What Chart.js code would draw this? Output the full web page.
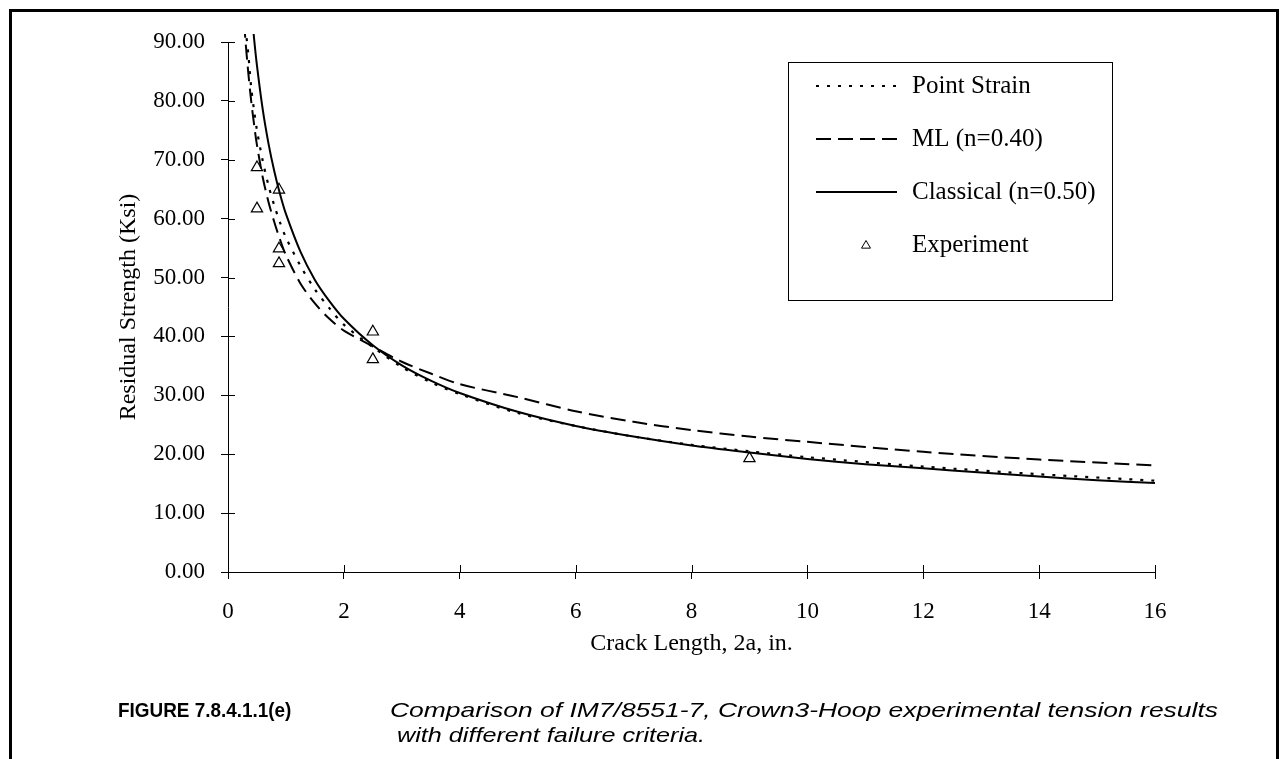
<!DOCTYPE html>
<html>
<head>
<meta charset="utf-8">
<script src="https://cdn.jsdelivr.net/npm/chart.js@4.4.1/dist/chart.umd.min.js"></script>
<style>
  html, body { margin: 0; padding: 0; background: #fff; }
  body { width: 1288px; height: 759px; position: relative; overflow: hidden; }
  #wrap { position: absolute; left: 0; top: 0; width: 1288px; height: 759px; }
  #frame { position: absolute; left: 9px; top: 9px; width: 1264px; height: 770px;
           border-left: 3px solid #000; border-top: 3px solid #000; border-right: 3px solid #000; }
  .cap { position: absolute; font-family: "Liberation Sans", Arial, sans-serif; color: #000; white-space: pre; }
  #capA { left: 118px; top: 698px; font-size: 21px; font-weight: bold; transform: scaleX(0.9); transform-origin: 0 0; }
  #capB { left: 390px; top: 698px; font-size: 21px; font-style: italic; transform: scaleX(1.26); transform-origin: 0 0; }
  #capC { left: 390px; top: 723px; font-size: 21px; font-style: italic; transform: scaleX(1.2); transform-origin: 0 0; }
</style>
</head>
<body>
<div id="frame"></div>
<div id="wrap"><canvas id="c" width="1288" height="759"></canvas></div>
<div class="cap" id="capA">FIGURE 7.8.4.1.1(e)</div>
<div class="cap" id="capB">Comparison of IM7/8551-7, Crown3-Hoop experimental tension results</div>
<div class="cap" id="capC"> with different failure criteria.</div>
<script>
// ---- data ----
const seriesNames = ["Point Strain", "ML (n=0.40)", "Classical (n=0.50)", "Experiment"];

const pointStrainX = [0.30, 0.35, 0.40, 0.45, 0.50, 0.60, 0.70, 0.80, 0.90, 1.00, 1.25, 1.50, 1.75, 2.00, 2.50, 3.00, 3.50, 4.00, 5.00, 6.00, 7.00, 8.00, 9.00, 10.00, 12.00, 14.00, 16.00];
const pointStrainY = [92.5, 88.0, 82.3, 78.4, 75.0, 69.8, 65.6, 62.2, 59.3, 56.8, 52.0, 48.0, 44.8, 42.0, 38.2, 34.8, 32.2, 30.2, 27.0, 24.8, 23.0, 21.6, 20.5, 19.5, 17.9, 16.6, 15.5];

const mlX = [0.25, 0.30, 0.35, 0.40, 0.45, 0.50, 0.60, 0.70, 0.80, 0.90, 1.00, 1.25, 1.50, 1.75, 2.00, 2.50, 3.00, 3.50, 4.00, 5.00, 6.00, 7.00, 8.00, 9.00, 10.00, 12.00, 14.00, 16.00];
const mlY = [97.0, 90.4, 84.8, 80.0, 76.0, 72.5, 67.0, 62.8, 59.4, 56.4, 53.8, 49.0, 45.6, 43.0, 41.0, 38.3, 35.7, 33.7, 31.9, 29.7, 27.3, 25.5, 24.1, 23.0, 22.1, 20.4, 19.1, 18.1];

const classicalX = [0.40, 0.45, 0.50, 0.60, 0.70, 0.80, 0.90, 1.00, 1.25, 1.50, 1.75, 2.00, 2.50, 3.00, 3.50, 4.00, 5.00, 6.00, 7.00, 8.00, 9.00, 10.00, 11.00, 12.00, 13.00, 14.00, 15.00, 16.00];
const classicalY = [96.1, 90.6, 86.0, 78.5, 72.7, 68.0, 64.1, 60.8, 54.4, 49.6, 46.0, 43.0, 38.5, 35.1, 32.5, 30.4, 27.2, 24.8, 23.0, 21.5, 20.3, 19.2, 18.3, 17.6, 16.9, 16.2, 15.6, 15.1];

const experimentX = [0.50, 0.50, 0.88, 0.88, 0.88, 2.50, 2.50, 9.00];
const experimentY = [68.7, 61.7, 64.9, 54.9, 52.4, 40.8, 36.1, 19.3];

const xTicks = [0, 2, 4, 6, 8, 10, 12, 14, 16];
const yTicks = [0, 10, 20, 30, 40, 50, 60, 70, 80, 90];

const xTitle = "Crack Length, 2a, in.";
const yTitle = "Residual Strength (Ksi)";

// ---- build ----
const pts = (xs, ys) => xs.map((x, i) => ({ x: x, y: ys[i] }));
const SERIF = "'Liberation Serif', 'Times New Roman', serif";
const TICK_FS = 23, TITLE_FS = 24, LEG_FS = 25;

const clipTop = { left: 0, top: 8, right: 0, bottom: 0 };

const datasets = [
  { label: seriesNames[0], data: pts(pointStrainX, pointStrainY), showLine: true, borderColor: '#000', borderWidth: 2.2,
    borderDash: [3, 8], pointRadius: 0, tension: 0.3, clip: clipTop, legendKind: 'line' },
  { label: seriesNames[1], data: pts(mlX, mlY), showLine: true, borderColor: '#000', borderWidth: 2,
    borderDash: [15, 7], pointRadius: 0, tension: 0.3, clip: clipTop, legendKind: 'line' },
  { label: seriesNames[2], data: pts(classicalX, classicalY), showLine: true, borderColor: '#000', borderWidth: 2,
    pointRadius: 0, tension: 0.3, clip: clipTop, legendKind: 'line' },
  { label: seriesNames[3], data: pts(experimentX, experimentY), showLine: false, pointStyle: 'triangle',
    pointRadius: 6.5, pointBorderWidth: 1.2, pointBackgroundColor: '#fff', pointBorderColor: '#000',
    borderColor: '#000', backgroundColor: '#fff', legendKind: 'point', clip: false }
];

// tick marks crossing the axes (inner half)
const innerTicks = {
  id: 'innerTicks',
  afterDatasetsDraw(chart) {
    const { ctx, scales: { x, y }, chartArea: ca } = chart;
    ctx.save();
    ctx.strokeStyle = '#000';
    ctx.lineWidth = 1;
    ctx.beginPath();
    xTicks.forEach(v => { const px = Math.round(x.getPixelForValue(v)) + 0.5; ctx.moveTo(px, ca.bottom); ctx.lineTo(px, ca.bottom - 7); });
    yTicks.forEach(v => { const py = Math.round(y.getPixelForValue(v)) + 0.5; ctx.moveTo(ca.left, py); ctx.lineTo(ca.left + 7, py); });
    ctx.stroke();
    ctx.restore();
  }
};

// boxed legend like the reference
const boxLegend = {
  id: 'boxLegend',
  afterDraw(chart) {
    const { ctx } = chart;
    const bx = 788, by = 62, bw = 324, bh = 238;
    ctx.save();
    ctx.strokeStyle = '#000';
    ctx.lineWidth = 1;
    ctx.fillStyle = '#fff';
    ctx.fillRect(bx, by, bw, bh);
    ctx.strokeRect(bx + 0.5, by + 0.5, bw, bh);
    const rows = [86, 139, 192, 245];
    chart.data.datasets.forEach((ds, i) => {
      const yy = rows[i];
      if (ds.legendKind === 'line') {
        ctx.beginPath();
        ctx.setLineDash(ds.borderDash || []);
        ctx.lineWidth = ds.borderWidth;
        ctx.strokeStyle = ds.borderColor;
        ctx.moveTo(816, yy);
        ctx.lineTo(897, yy);
        ctx.stroke();
        ctx.setLineDash([]);
      } else {
        ctx.beginPath();
        ctx.lineWidth = 1;
        ctx.strokeStyle = '#000';
        const cx = 866, r = 4.5;
        ctx.moveTo(cx, yy - r);
        ctx.lineTo(cx + r, yy + r * 0.7);
        ctx.lineTo(cx - r, yy + r * 0.7);
        ctx.closePath();
        ctx.stroke();
      }
      ctx.fillStyle = '#000';
      ctx.font = LEG_FS + 'px ' + SERIF;
      ctx.textBaseline = 'middle';
      ctx.textAlign = 'left';
      ctx.fillText(ds.label, 912, yy);
    });
    ctx.restore();
  }
};

new Chart(document.getElementById('c'), {
  type: 'scatter',
  data: { datasets: datasets },
  options: {
    responsive: false,
    animation: false,
    layout: { padding: { left: 114, top: 42, right: 133, bottom: 101 } },
    plugins: { legend: { display: false }, tooltip: { enabled: false }, title: { display: false } },
    scales: {
      x: {
        type: 'linear', min: 0, max: 16,
        afterBuildTicks: s => { s.ticks = xTicks.map(v => ({ value: v })); },
        afterFit: s => { s.height = 86; },
        border: { display: true, color: '#000', width: 1 },
        grid: { display: true, drawOnChartArea: false, drawTicks: true, tickLength: 7, color: '#000', lineWidth: 1 },
        ticks: { color: '#000', font: { family: SERIF, size: TICK_FS }, padding: 19, maxRotation: 0,
                 callback: v => String(v) },
        title: { display: true, text: xTitle, color: '#000', font: { family: SERIF, size: TITLE_FS }, padding: 0 }
      },
      y: {
        type: 'linear', min: 0, max: 90,
        afterBuildTicks: s => { s.ticks = yTicks.map(v => ({ value: v })); },
        afterFit: s => { s.width = 228 - 114; },
        border: { display: true, color: '#000', width: 1 },
        grid: { display: true, drawOnChartArea: false, drawTicks: true, tickLength: 7, color: '#000', lineWidth: 1 },
        ticks: { color: '#000', font: { family: SERIF, size: TICK_FS }, padding: 16,
                 callback: v => Number(v).toFixed(2) },
        title: { display: true, text: yTitle, color: '#000', font: { family: SERIF, size: TITLE_FS }, padding: 0 }
      }
    }
  },
  plugins: [innerTicks, boxLegend]
});
</script>
</body>
</html>
